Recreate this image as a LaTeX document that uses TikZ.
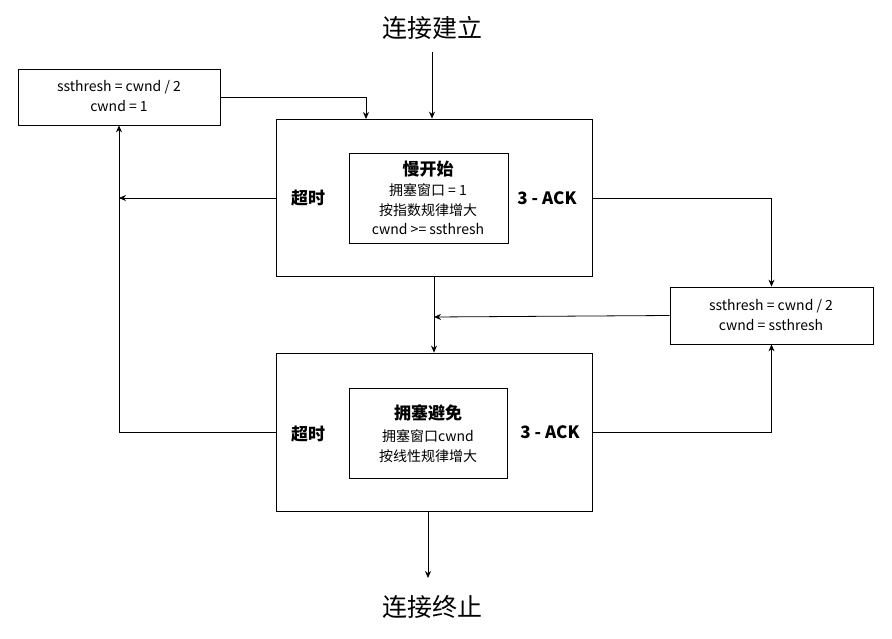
\documentclass[tikz,border=0pt]{standalone}
\usepackage{fontspec}
\setmainfont{Noto Sans CJK SC}
\usetikzlibrary{arrows.meta}
\begin{document}
\begin{tikzpicture}[x=1pt,y=-1pt,
 box/.style={draw,line width=0.8pt,inner sep=0pt},
 arr/.style={-{Stealth[length=7pt,width=6pt]},line width=0.8pt},
 t/.style={font=\fontsize{14}{16}\selectfont,inner sep=0pt},
 b/.style={font=\fontsize{17}{19}\selectfont\bfseries,inner sep=0pt},
 big/.style={font=\fontsize{25}{28}\selectfont,inner sep=0pt}]
\useasboundingbox (0,0) rectangle (892,639);
\node[big] (start) at (432,28) {连接建立};
\node[big] (end) at (432,607) {连接终止};
\node[box,minimum width=316pt,minimum height=157pt] (ss) at (434,197.5) {};
\node[box,minimum width=159pt,minimum height=90pt] (ssi) at (428.5,198) {};
\node[b] at (428,169) {慢开始};
\node[t] at (428,190) {拥塞窗口 = 1};
\node[t] at (428,210) {按指数规律增大};
\node[t] at (428,229) {cwnd >= ssthresh};
\node[b] (to1) at (308,198) {超时};
\node[b] (ack1) at (547,198) {3 - ACK};
\node[box,minimum width=316pt,minimum height=158pt] (ca) at (434,432) {};
\node[box,minimum width=158pt,minimum height=90pt] (cai) at (428,433) {};
\node[b] at (428,413) {拥塞避免};
\node[t] at (428,436) {拥塞窗口cwnd};
\node[t] at (428,456) {按线性规律增大};
\node[b] (to2) at (308,434) {超时};
\node[b] (ack2) at (550,432) {3 - ACK};
\node[box,minimum width=202pt,minimum height=56pt] (lb) at (119,97) {};
\node[t] at (119,87) {ssthresh = cwnd / 2};
\node[t] at (119,106) {cwnd = 1};
\node[box,minimum width=203pt,minimum height=57pt] (rb) at (771.5,315.5) {};
\node[t] at (771,306) {ssthresh = cwnd / 2};
\node[t] at (771,325) {cwnd = ssthresh};
\coordinate (j1) at (119,198);
\coordinate (j2) at (434,317);
\draw[arr] (start.south |- 0,52) -- (start.south |- ss.north);
\draw[arr] (ss.west |- 0,198) -- (j1);
\draw[arr] (ca.west |- 0,432) -| (lb.south);
\draw[arr] (lb.east) -| (366,119);
\draw[arr] (ss.east |- 0,198) -| (rb.north);
\draw[arr] (rb.west) -- (j2);
\draw[arr] (ss.south) -- (ca.north);
\draw[arr] (ca.east |- 0,432) -| (rb.south);
\draw[arr] (428,511) -- (428,578);
\end{tikzpicture}
\end{document}
